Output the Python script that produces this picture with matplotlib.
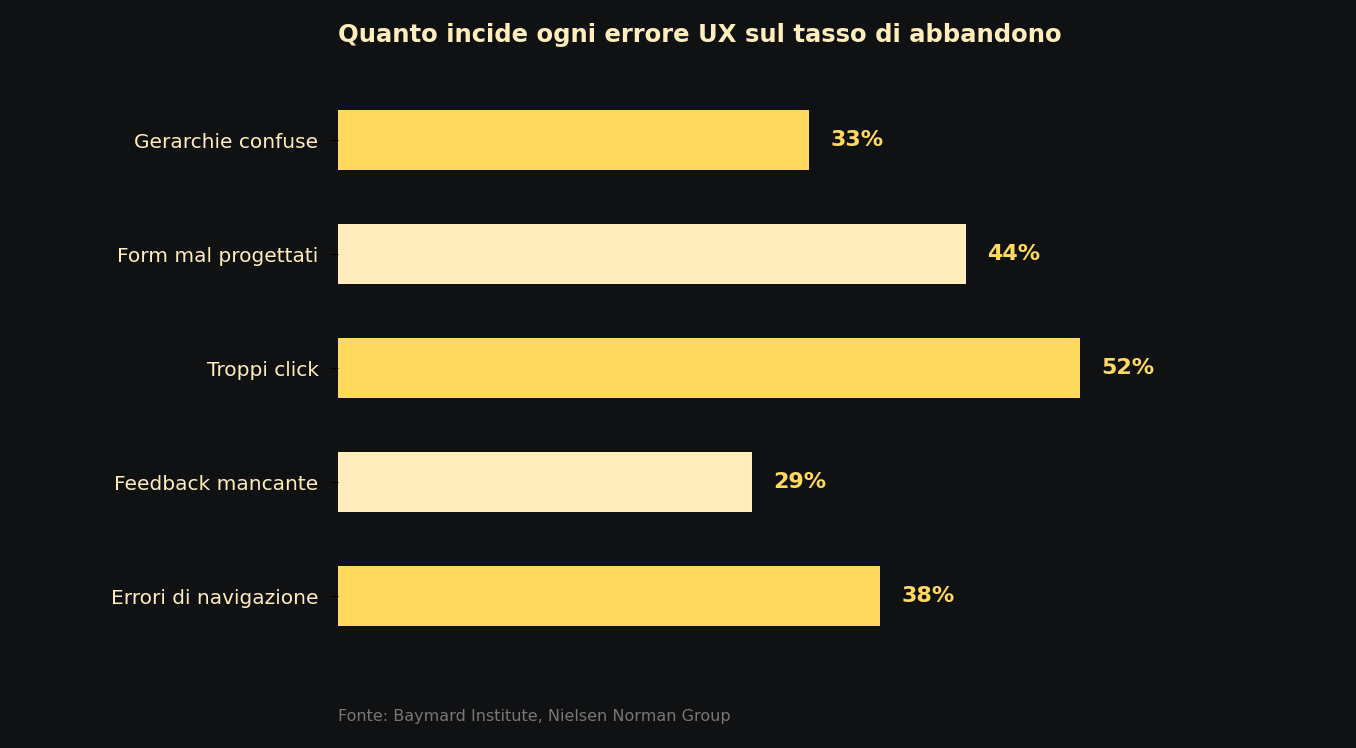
import matplotlib.pyplot as plt

# dati
categorie = ["Gerarchie confuse", "Form mal progettati", "Troppi click",
             "Feedback mancante", "Errori di navigazione"]
valori = [33, 44, 52, 29, 38]
colori = ["#FFDA5E", "#FFEDBB", "#FFDA5E", "#FFEDBB", "#FFDA5E"]

bg = "#101113"
W, H = 1356, 748
fig = plt.figure(figsize=(W / 100, H / 100), dpi=100, facecolor=bg)
ax = fig.add_axes([338 / W, 1 - 653 / H, (W - 338) / W, 570 / H])
ax.set_facecolor(bg)

y = list(range(len(categorie)))
ax.barh(y, valori, height=0.52, color=colori)
ax.set_ylim(4.5, -0.5)
ax.set_xlim(0, (W - 338) / 14.27)

for yi, v in zip(y, valori):
    ax.text(v + 1.5, yi, f"{v}%", va="center", ha="left",
            fontsize=16, fontweight="bold", color="#FFDA5E")

ax.set_yticks(y)
ax.set_yticklabels(categorie, fontsize=14.5, color="#FFEDBB")
ax.tick_params(axis="y", length=6, color="black", pad=8)
ax.set_xticks([])
for s in ax.spines.values():
    s.set_visible(False)

fig.text(338 / W, 1 - 35 / H, "Quanto incide ogni errore UX sul tasso di abbandono",
         fontsize=17.5, fontweight="bold", color="#FFEDBB", va="center", ha="left")
fig.text(338 / W, 1 - 717 / H, "Fonte: Baymard Institute, Nielsen Norman Group",
         fontsize=11.5, color="#777777", va="center", ha="left")

fig.savefig("out.png", dpi=100, facecolor=bg)
